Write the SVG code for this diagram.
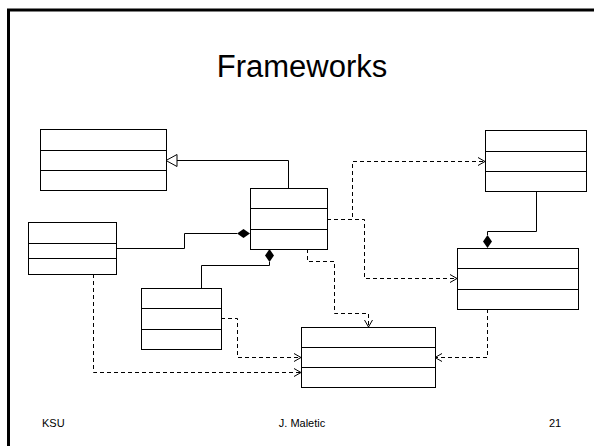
<svg xmlns="http://www.w3.org/2000/svg" width="594" height="446" viewBox="0 0 594 446">
  <style>
    .cls { fill: #fff; stroke: #000; stroke-width: 1; }
    .div { stroke: #000; stroke-width: 1; fill: none; }
    .solid { fill: none; stroke: #000; stroke-width: 1; }
    .dash { fill: none; stroke: #000; stroke-width: 1; stroke-dasharray: 4 3; }
    .title { font-family: "Liberation Sans", Arial, sans-serif; font-size: 31px; fill: #000; }
    .foot { font-family: "Liberation Sans", Arial, sans-serif; font-size: 11px; fill: #000; }
  </style>
  <defs>
    <marker id="open" markerUnits="userSpaceOnUse" markerWidth="10" markerHeight="10" refX="7" refY="4" orient="auto" overflow="visible">
      <path d="M0,0 L7,4 L0,8" fill="none" stroke="#000" stroke-width="1"/>
    </marker>
  </defs>

  <rect id="frame" x="8.5" y="10" width="600" height="450" fill="#fff" stroke="#000" stroke-width="3"/>

  <text class="title" x="302" y="77" text-anchor="middle">Frameworks</text>

  <g id="connectors">
    <!-- generalization -->
    <path class="solid" d="M288.5,188 V160.5 H177"/>
    <polygon points="166,160.5 177,154.5 177,166.5" fill="#fff" stroke="#000" stroke-width="1"/>
    <!-- compositions -->
    <path class="solid" d="M116,248.5 H184.5 V233.5 H237"/>
    <polygon points="250,233.5 243.5,229 237,233.5 243.5,238" fill="#000"/>
    <path class="solid" d="M201.5,288 V265.5 H269.5 V262"/>
    <polygon points="269.5,249 274,255.5 269.5,262 265,255.5" fill="#000"/>
    <path class="solid" d="M536.5,191 V231.5 H487.5 V235"/>
    <polygon points="487.5,248 483,241.5 487.5,235 492,241.5" fill="#000"/>
    <!-- dependencies -->
    <path class="dash" d="M327,219.5 H352.5 V161.5 H485" marker-end="url(#open)"/>
    <path class="dash" d="M327,219.5 H364.5 V278.5 H457" marker-end="url(#open)"/>
    <path class="dash" d="M307.5,249 V261.5 H334.5 V313.5 H368.5 V327" marker-end="url(#open)"/>
    <path class="dash" d="M221,318.5 H237.5 V357.5 H301" marker-end="url(#open)"/>
    <path class="dash" d="M93.5,274 V372.5 H301" marker-end="url(#open)"/>
    <path class="dash" d="M487.5,309 V357.5 H435" marker-end="url(#open)"/>
  </g>

  <g id="classA">
    <rect class="cls" x="40.5" y="129.5" width="126" height="61"/>
    <path class="div" d="M40.5,150.5 H166.5 M40.5,170.5 H166.5"/>
  </g>
  <g id="classB">
    <rect class="cls" x="250.5" y="188.5" width="77" height="61"/>
    <path class="div" d="M250.5,208.5 H327.5 M250.5,229.5 H327.5"/>
  </g>
  <g id="classC">
    <rect class="cls" x="28.5" y="222.5" width="88" height="52"/>
    <path class="div" d="M28.5,243.5 H116.5 M28.5,258.5 H116.5"/>
  </g>
  <g id="classD">
    <rect class="cls" x="141.5" y="288.5" width="80" height="61"/>
    <path class="div" d="M141.5,308.5 H221.5 M141.5,329.5 H221.5"/>
  </g>
  <g id="classE">
    <rect class="cls" x="301.5" y="327.5" width="134" height="60"/>
    <path class="div" d="M301.5,347.5 H435.5 M301.5,367.5 H435.5"/>
  </g>
  <g id="classF">
    <rect class="cls" x="485.5" y="130.5" width="101" height="61"/>
    <path class="div" d="M485.5,151.5 H586.5 M485.5,171.5 H586.5"/>
  </g>
  <g id="classG">
    <rect class="cls" x="457.5" y="248.5" width="121" height="61"/>
    <path class="div" d="M457.5,268.5 H578.5 M457.5,289.5 H578.5"/>
  </g>

  <text class="foot" x="42" y="427">KSU</text>
  <text class="foot" x="302" y="427" text-anchor="middle">J. Maletic</text>
  <text class="foot" x="549" y="427">21</text>
</svg>
